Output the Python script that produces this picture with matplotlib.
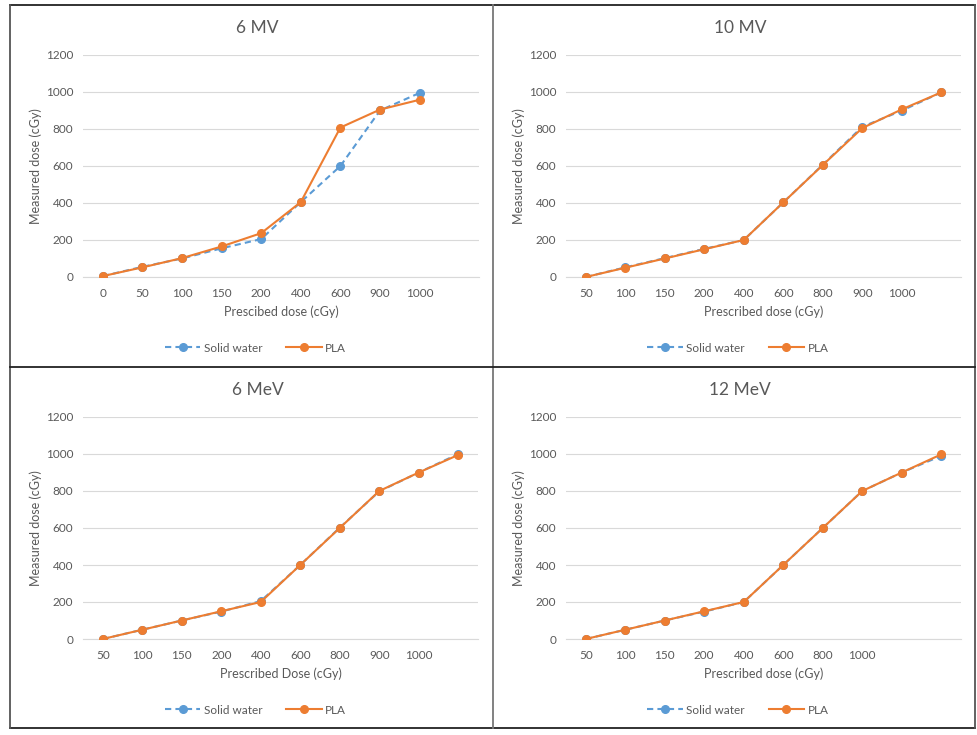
import matplotlib
matplotlib.use("Agg")
import matplotlib.pyplot as plt
from matplotlib.lines import Line2D

plt.rcParams["font.family"] = ["Lato", "DejaVu Sans"]

W, H = 977, 735

# x categories (label text per slot; 10 slots per chart)
labels_6mv = ["0", "50", "100", "150", "200", "400", "600", "900", "1000", ""]
labels_10mv = ["50", "100", "150", "200", "400", "600", "800", "900", "1000", ""]
labels_6mev = ["50", "100", "150", "200", "400", "600", "800", "900", "1000", ""]
labels_12mev = ["50", "100", "150", "200", "400", "600", "800", "1000", "", ""]

# measured doses (cGy)
water_6mv = [5, 55, 100, 155, 205, 405, 600, 900, 995]
pla_6mv = [5, 52, 102, 165, 237, 405, 808, 905, 958]

water_10mv = [0, 52, 102, 152, 200, 403, 607, 812, 899, 998]
pla_10mv = [0, 50, 100, 150, 200, 403, 605, 805, 906, 998]

water_6mev = [0, 50, 100, 148, 205, 400, 602, 798, 900, 1000]
pla_6mev = [0, 50, 100, 150, 200, 400, 600, 800, 900, 995]

water_12mev = [0, 50, 100, 148, 200, 400, 600, 800, 900, 990]
pla_12mev = [0, 50, 100, 150, 200, 400, 600, 800, 900, 998]

BLUE = "#5B9BD5"
ORANGE = "#ED7D31"
TXT = "#595959"
GRID = "#D9D9D9"

panels = [
    # title, xlabel, labels, water, pla, panel box (x0, y0, x1, y1) px, plot area (x0, y0, x1, y1) px
    ("6 MV", "Prescibed dose (cGy)", labels_6mv, water_6mv, pla_6mv,
     (10, 5, 493, 367), (83, 55, 479, 277)),
    ("10 MV", "Prescribed dose (cGy)", labels_10mv, water_10mv, pla_10mv,
     (493, 5, 975, 367), (566, 55, 961, 277)),
    ("6 MeV", "Prescribed Dose (cGy)", labels_6mev, water_6mev, pla_6mev,
     (10, 367, 493, 728), (83, 417, 478, 639)),
    ("12 MeV", "Prescribed dose (cGy)", labels_12mev, water_12mev, pla_12mev,
     (493, 367, 975, 728), (566, 417, 961, 639)),
]


def fx(x):
    return x / W


def fy(y):
    return 1 - y / H


fig = plt.figure(figsize=(W / 100, H / 100), dpi=100)

for title, xlabel, labels, water, pla, box, area in panels:
    bx0, by0, bx1, by1 = box
    ax0, ay0, ax1, ay1 = area
    ax = fig.add_axes([fx(ax0), fy(ay1), (ax1 - ax0) / W, (ay1 - ay0) / H])

    xs_w = list(range(len(water)))
    xs_p = list(range(len(pla)))
    ax.plot(xs_w, water, color=BLUE, lw=1.5, ls=(0, (3, 2)), marker="o",
            markersize=5.5, label="Solid water", zorder=3)
    ax.plot(xs_p, pla, color=ORANGE, lw=1.5, marker="o", markersize=5.5,
            label="PLA", zorder=4)

    ax.set_xlim(-0.5, 9.5)
    ax.set_ylim(0, 1200)
    ax.set_yticks(range(0, 1201, 200))
    ax.set_xticks(range(len(labels)))
    ax.set_xticklabels(labels)
    ax.yaxis.grid(True, color=GRID, lw=0.8)
    ax.set_axisbelow(True)
    for s in ["top", "right", "left"]:
        ax.spines[s].set_visible(False)
    ax.spines["bottom"].set_color(GRID)
    ax.spines["bottom"].set_linewidth(0.8)
    ax.tick_params(length=0, colors=TXT, labelsize=8.5)
    ax.tick_params(axis="x", pad=8)
    ax.tick_params(axis="y", pad=7)

    cx = (bx0 + bx1) / 2
    fig.text(fx(cx + 6), fy(by0 + 23), title, ha="center", va="center",
             fontsize=12.5, color=TXT)
    fig.text(fx((ax0 + ax1) / 2), fy(ay1 + 35), xlabel, ha="center",
             va="center", fontsize=9, color=TXT)
    fig.text(fx(ax0 - 47), fy((ay0 + ay1) / 2), "Measured dose (cGy)",
             rotation=90, ha="center", va="center", fontsize=9, color=TXT)

    handles, lbls = ax.get_legend_handles_labels()
    fig.legend(handles, lbls, loc="center",
               bbox_to_anchor=(fx(cx + 4), fy(by0 + 343)), ncol=2,
               frameon=False, fontsize=8.5, labelcolor=TXT, handlelength=3.0,
               handletextpad=0.3, columnspacing=2.0)

# panel borders
border = dict(color="#222222", lw=1.3, transform=fig.transFigure)
fig.add_artist(Line2D([fx(10), fx(975)], [fy(5), fy(5)], **border))
fig.add_artist(Line2D([fx(10), fx(975)], [fy(728), fy(728)], **border))
fig.add_artist(Line2D([fx(10), fx(10)], [fy(5), fy(728)], color="#555555",
                      lw=1.3, transform=fig.transFigure))
fig.add_artist(Line2D([fx(975), fx(975)], [fy(5), fy(728)], color="#555555",
                      lw=1.3, transform=fig.transFigure))
fig.add_artist(Line2D([fx(493), fx(493)], [fy(5), fy(728)], color="#777777",
                      lw=1.3, transform=fig.transFigure))
fig.add_artist(Line2D([fx(10), fx(975)], [fy(367), fy(367)], **border))

fig.savefig("out.png", dpi=100)
